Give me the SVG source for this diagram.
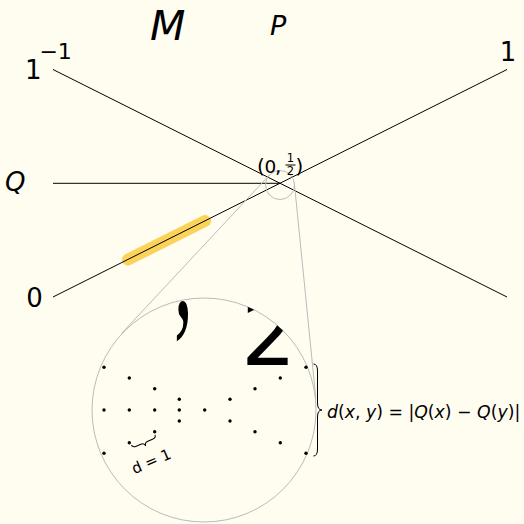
<svg xmlns="http://www.w3.org/2000/svg" width="524" height="524" viewBox="0 0 524 524">
<style>
text{font-family:"DejaVu Sans",sans-serif;fill:#000}
.it{font-style:italic}
.serif{font-family:"Liberation Serif",serif}
.ln{stroke:#000;stroke-width:1;fill:none}
.gr{stroke:#bbbbbb;stroke-width:1;fill:none}
.dot{fill:#000}
</style>
<defs>
<clipPath id="lens"><circle cx="204" cy="410" r="112"/></clipPath>
</defs>
<rect width="524" height="524" fill="#fffcf0"/>
<g id="highlight">
<line x1="128" y1="259.5" x2="205" y2="221" stroke="#fcd35a" stroke-width="12" stroke-linecap="round"/>
</g>
<g id="connectors">
<line class="ln" x1="53" y1="69.5" x2="507" y2="297"/>
<line class="ln" x1="53" y1="297" x2="507" y2="69.5"/>
<line class="ln" x1="53" y1="183.3" x2="280" y2="183.3"/>
<line class="gr" x1="269.4" y1="175.1" x2="121.7" y2="333.3"/>
<line class="gr" x1="294.4" y1="183.6" x2="315.9" y2="398.8"/>
</g>
<g id="small-circle"><circle class="gr" cx="280" cy="185" r="14.5"/></g>
<g id="lens-circle">
<circle class="gr" cx="204" cy="410" r="112"/>
<g clip-path="url(#lens)">
<text class="serif" x="168" y="314" font-size="125" transform="translate(183 300) scale(0.6 1.25) translate(-183 -300)">,</text>
<text x="241" y="365" font-size="87">2</text>
</g>
</g>
<g id="dots">
<circle class="dot" cx="104" cy="367.3" r="1.7"/><circle class="dot" cx="306" cy="367.3" r="1.7"/>
<circle class="dot" cx="129.3" cy="378" r="1.7"/><circle class="dot" cx="280.3" cy="378" r="1.7"/>
<circle class="dot" cx="154.7" cy="388.7" r="1.7"/><circle class="dot" cx="255" cy="388.7" r="1.7"/>
<circle class="dot" cx="179.3" cy="399.3" r="1.7"/><circle class="dot" cx="230" cy="399.3" r="1.7"/>
<circle class="dot" cx="104" cy="410" r="1.7"/><circle class="dot" cx="129.3" cy="410" r="1.7"/><circle class="dot" cx="154.7" cy="410" r="1.7"/><circle class="dot" cx="179.3" cy="410" r="1.7"/><circle class="dot" cx="204.7" cy="410" r="1.7"/>
<circle class="dot" cx="179.3" cy="421" r="1.7"/><circle class="dot" cx="230" cy="421" r="1.7"/>
<circle class="dot" cx="154.7" cy="431.7" r="1.7"/><circle class="dot" cx="255" cy="431.7" r="1.7"/>
<circle class="dot" cx="129.3" cy="442.7" r="1.7"/><circle class="dot" cx="280.3" cy="442.7" r="1.7"/>
<circle class="dot" cx="104" cy="453.3" r="1.7"/><circle class="dot" cx="306" cy="453.3" r="1.7"/>
</g>
<g id="brace-d1" transform="translate(129.3 442.7) rotate(-23.4)">
<path class="ln" d="M1 3 Q1 6 5 6 L10 6 Q13.8 6 13.8 9.5 Q13.8 6 17.6 6 L22.7 6 Q26.7 6 26.7 3"/>
<text x="12.7" y="31" font-size="15" text-anchor="middle">d = 1</text>
</g>
<g id="brace-metric">
<path class="ln" d="M313.5 364 Q317.5 364 317.5 371 L317.5 403 Q317.5 410 322 410 Q317.5 410 317.5 417 L317.5 449 Q317.5 456 313.5 456"/>
<text x="327" y="418" font-size="17.3"><tspan class="it">d</tspan>(<tspan class="it">x</tspan>, <tspan class="it">y</tspan>) = |<tspan class="it">Q</tspan>(<tspan class="it">x</tspan>) − <tspan class="it">Q</tspan>(<tspan class="it">y</tspan>)|</text>
</g>
<g id="label-point">
<text font-size="20" y="173"><tspan x="257">(</tspan><tspan x="264.5" font-size="18.5">0</tspan><tspan x="275">,</tspan></text>
<text x="290.5" y="161.5" font-size="11.5" text-anchor="middle">1</text>
<line class="ln" x1="285.5" y1="165" x2="295.5" y2="165"/>
<text x="290.5" y="175" font-size="11.5" text-anchor="middle">2</text>
<text x="295.5" y="173" font-size="20">)</text>
</g>
<g id="labels">
<text class="it" x="150" y="40" font-size="41">M</text>
<text class="it" x="270" y="35" font-size="27">P</text>
<text class="it" x="5" y="191" font-size="26">Q</text>
<text x="25" y="79" font-size="26">1</text>
<text x="39.4" y="59" font-size="22">−1</text>
<text x="499.8" y="60.7" font-size="26">1</text>
<text x="26.3" y="306.5" font-size="26">0</text>
</g>
</svg>
